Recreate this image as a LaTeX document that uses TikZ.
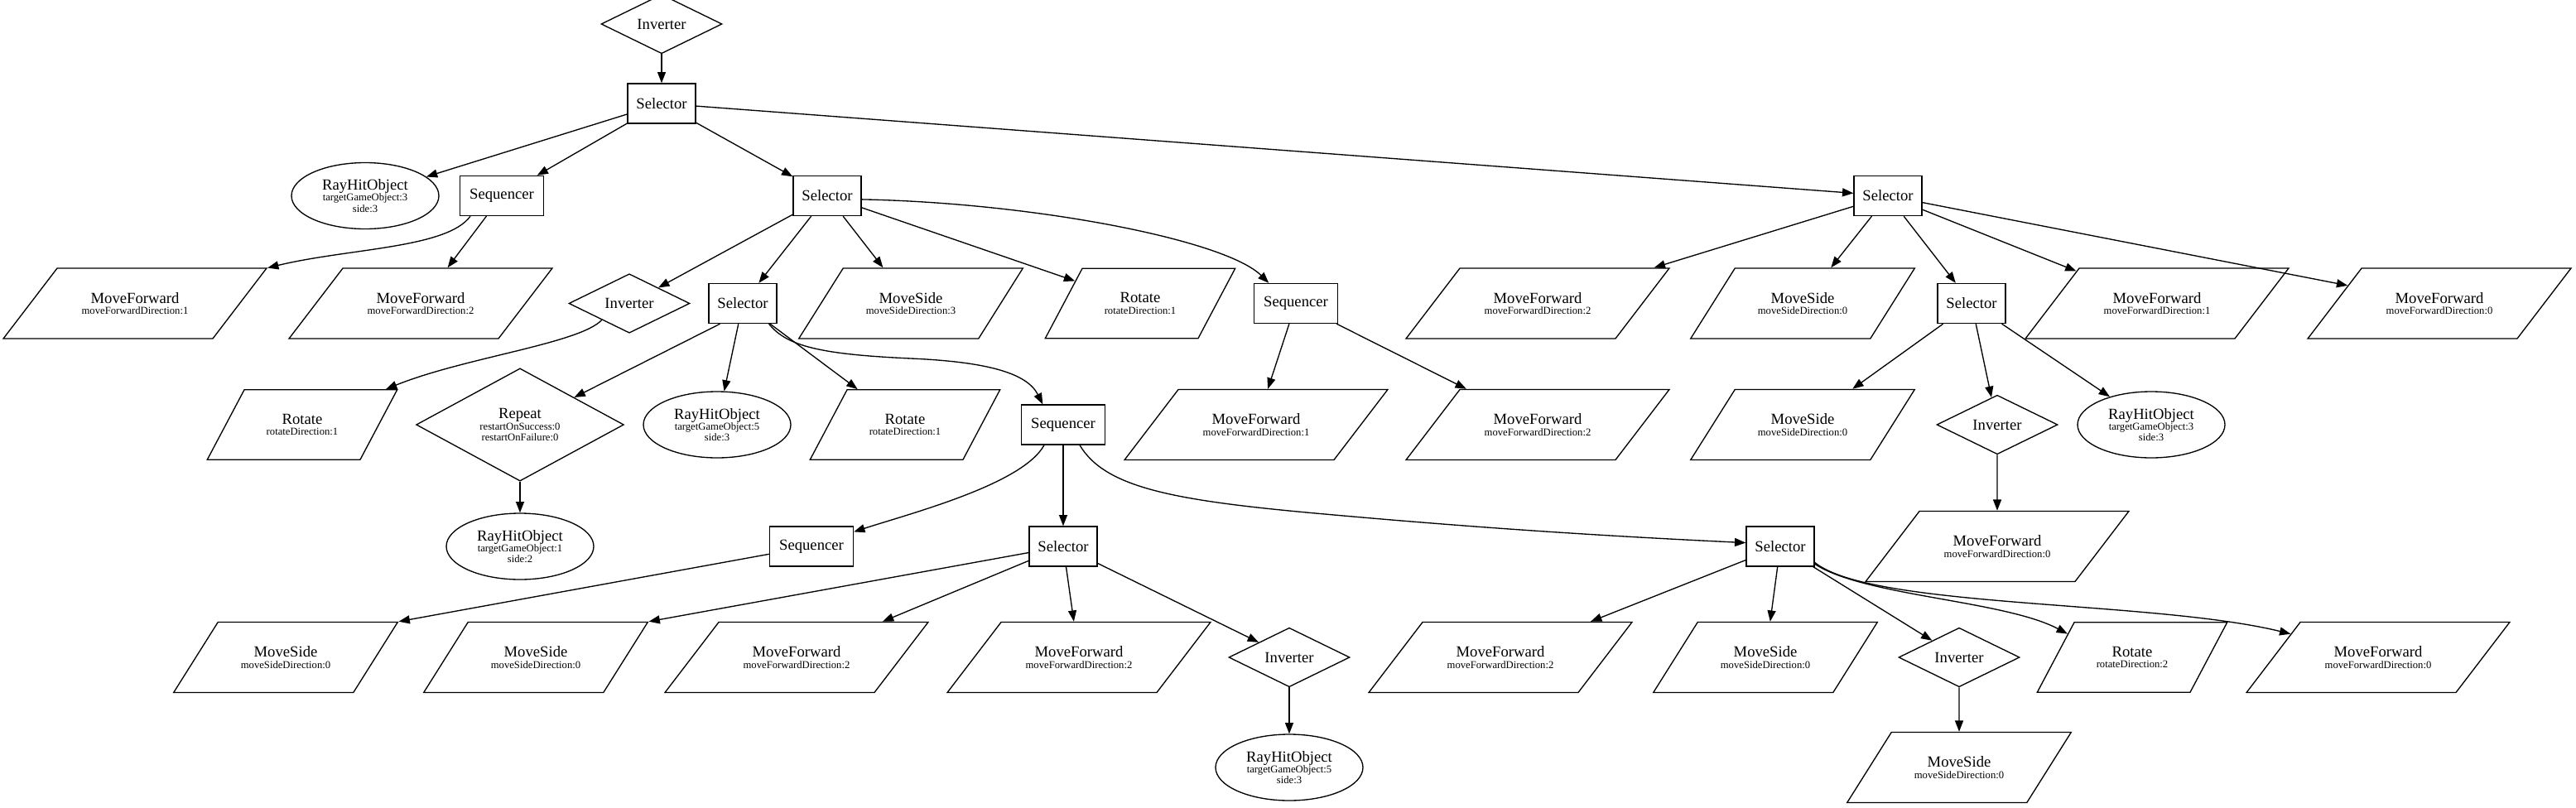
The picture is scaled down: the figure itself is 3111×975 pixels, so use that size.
\documentclass[tikz,border=0pt]{standalone}
\usepackage{fontspec}
\setmainfont{Liberation Serif}
\usetikzlibrary{shapes.geometric,arrows.meta}
\newcommand\gvbig{\fontsize{14}{14}\selectfont}
\newcommand\gvsmall{\fontsize{9.5}{10}\selectfont}
\newcommand\gvlbl[2]{{\gvbig #1}\\#2}
\lineskiplimit=-5pt
\tikzset{
  base/.style={draw, line width=1pt, inner sep=0pt, align=center, font=\gvsmall},
  selbox/.style={base, rectangle, minimum width=61.5pt, minimum height=36pt},
  seqbox/.style={base, rectangle, minimum width=75.75pt, minimum height=36pt},
  invd/.style={base, diamond, minimum width=109.5pt, minimum height=36pt},
  repd/.style={base, diamond, minimum width=188pt, minimum height=83pt},
  rayell/.style={base, ellipse, minimum width=133.5pt, minimum height=60pt},
  para/.style={base, trapezium, trapezium stretches body, inner xsep=0pt, inner ysep=22pt},
  pmf/.style={para, trapezium left angle=52.6, trapezium right angle=127.4, minimum width=238.5pt},
  pms/.style={para, trapezium left angle=57.8, trapezium right angle=122.2, minimum width=203pt},
  prot/.style={para, trapezium left angle=62.1, trapezium right angle=117.9, minimum width=172pt},
  conn/.style={line width=1pt, -{Triangle[length=10pt,width=7.5pt]}},
}
\begin{document}
\begin{tikzpicture}[x=0.75pt,y=0.75pt]
\path[fill=white] (0,0) rectangle (3111,-975);
\useasboundingbox (0,0) rectangle (3111,-975);
% rank 0-2
\node[invd] (inv0) at (799,-29) {\gvbig Inverter};
\node[selbox] (sel1) at (799,-125) {\gvbig Selector};
\node[rayell] (ray2) at (441,-236.5) {\gvlbl{RayHitObject}{targetGameObject:3\\side:3}};
\node[seqbox] (seq2) at (606,-236.5) {\gvbig Sequencer};
\node[selbox] (sel2a) at (999,-236.5) {\gvbig Selector};
\node[selbox] (sel2b) at (2280,-236.5) {\gvbig Selector};
% rank 3
\node[pmf] (mf3a) at (163,-366.5) {\gvlbl{MoveForward}{moveForwardDirection:1}};
\node[pmf] (mf3b) at (508,-366.5) {\gvlbl{MoveForward}{moveForwardDirection:2}};
\node[invd] (inv3) at (760,-366.5) {\gvbig Inverter};
\node[selbox] (sel3) at (897,-366.5) {\gvbig Selector};
\node[pms] (ms3) at (1100,-366.5) {\gvlbl{MoveSide}{moveSideDirection:3}};
\node[prot] (rot3) at (1377,-366.5) {\gvlbl{Rotate}{rotateDirection:1}};
\node[seqbox] (seq3) at (1565,-366.5) {\gvbig Sequencer};
\node[pmf] (mf3c) at (1857,-366.5) {\gvlbl{MoveForward}{moveForwardDirection:2}};
\node[pms] (ms3b) at (2177,-366.5) {\gvlbl{MoveSide}{moveSideDirection:0}};
\node[selbox] (sel3b) at (2381,-366.5) {\gvbig Selector};
\node[pmf] (mf3d) at (2605,-366.5) {\gvlbl{MoveForward}{moveForwardDirection:1}};
\node[pmf] (mf3e) at (2946,-366.5) {\gvlbl{MoveForward}{moveForwardDirection:0}};
% rank 4
\node[prot] (rot4) at (365,-513) {\gvlbl{Rotate}{rotateDirection:1}};
\node[repd] (rep4) at (628,-513) {\gvlbl{Repeat}{restartOnSuccess:0\\restartOnFailure:0}};
\node[rayell] (ray4) at (866,-513) {\gvlbl{RayHitObject}{targetGameObject:5\\side:3}};
\node[prot] (rot4b) at (1093,-513) {\gvlbl{Rotate}{rotateDirection:1}};
\node[seqbox] (seq4) at (1284,-513) {\gvbig Sequencer};
\node[pmf] (mf4a) at (1517,-513) {\gvlbl{MoveForward}{moveForwardDirection:1}};
\node[pmf] (mf4b) at (1857,-513) {\gvlbl{MoveForward}{moveForwardDirection:2}};
\node[pms] (ms4) at (2177,-513) {\gvlbl{MoveSide}{moveSideDirection:0}};
\node[invd] (inv4) at (2412,-513) {\gvbig Inverter};
\node[rayell] (ray4b) at (2598,-513) {\gvlbl{RayHitObject}{targetGameObject:3\\side:3}};
% rank 5
\node[rayell] (ray5) at (628,-660) {\gvlbl{RayHitObject}{targetGameObject:1\\side:2}};
\node[seqbox] (seq5) at (980,-660) {\gvbig Sequencer};
\node[selbox] (sel5) at (1284,-660) {\gvbig Selector};
\node[selbox] (sel5b) at (2150,-660) {\gvbig Selector};
\node[pmf] (mf5) at (2412,-660) {\gvlbl{MoveForward}{moveForwardDirection:0}};
% rank 6
\node[pms] (ms6a) at (345,-794) {\gvlbl{MoveSide}{moveSideDirection:0}};
\node[pms] (ms6b) at (647,-794) {\gvlbl{MoveSide}{moveSideDirection:0}};
\node[pmf] (mf6a) at (962,-794) {\gvlbl{MoveForward}{moveForwardDirection:2}};
\node[pmf] (mf6b) at (1303,-794) {\gvlbl{MoveForward}{moveForwardDirection:2}};
\node[invd] (inv6) at (1557,-794) {\gvbig Inverter};
\node[pmf] (mf6c) at (1812,-794) {\gvlbl{MoveForward}{moveForwardDirection:2}};
\node[pms] (ms6c) at (2132,-794) {\gvlbl{MoveSide}{moveSideDirection:0}};
\node[invd] (inv6b) at (2366,-794) {\gvbig Inverter};
\node[prot] (rot6) at (2575,-794) {\gvlbl{Rotate}{rotateDirection:2}};
\node[pmf] (mf6d) at (2872,-794) {\gvlbl{MoveForward}{moveForwardDirection:0}};
% rank 7
\node[rayell] (ray7) at (1557,-927) {\gvlbl{RayHitObject}{targetGameObject:5\\side:3}};
\node[pms] (ms7) at (2366,-927) {\gvlbl{MoveSide}{moveSideDirection:0}};
% straight edges
\draw[conn] (inv0) -- (sel1);
\draw[conn] (sel1) -- (ray2);
\draw[conn] (sel1) -- (seq2);
\draw[conn] (sel1) -- (sel2a);
\draw[conn] (sel1) -- (sel2b);
\draw[conn] (seq2) -- (mf3b);
\draw[conn] (sel2a) -- (inv3);
\draw[conn] (sel2a) -- (sel3);
\draw[conn] (sel2a) -- (ms3);
\draw[conn] (sel2a) -- (rot3);
\draw[conn] (seq3) -- (mf4a);
\draw[conn] (seq3) -- (mf4b);
\draw[conn] (sel3.-138) -- (rep4);
\draw[conn] (sel3) -- (ray4);
\draw[conn] (sel3) -- (rot4b);
\draw[conn] (rep4) -- (ray5);
\draw[conn] (seq4) -- (sel5);
\draw[conn] (seq5) -- (ms6a.top right corner);
\draw[conn] (sel5) -- (ms6b.top right corner);
\draw[conn] (sel5) -- (mf6a);
\draw[conn] (sel5) -- (mf6b);
\draw[conn] (sel5) -- (inv6);
\draw[conn] (inv6) -- (ray7);
\draw[conn] (sel5b) -- (mf6c);
\draw[conn] (sel5b) -- (ms6c);
\draw[conn] (sel5b) -- (inv6b);
\draw[conn] (inv6b) -- (ms7);
\draw[conn] (sel2b) -- (mf3c);
\draw[conn] (sel2b) -- (ms3b);
\draw[conn] (sel2b) -- (sel3b);
\draw[conn] (sel2b) -- (mf3d);
\draw[conn] (sel2b) -- (mf3e);
\draw[conn] (sel3b) -- (ms4);
\draw[conn] (sel3b) -- (inv4);
\draw[conn] (sel3b) -- (ray4b);
\draw[conn] (inv4) -- (mf5);
% curved edges
\draw[conn] (seq2.-147) .. controls (540,-300) and (420,-300) .. (mf3a.15);
\draw[conn] (sel2a.-6) .. controls (1250,-245) and (1480,-290) .. (seq3.143);
\draw[conn] (inv3.-149) .. controls (700,-415) and (560,-432) .. (rot4.23);
\draw[conn] (sel3.-38) .. controls (950,-418) and (990,-428) .. (1100,-433)
  .. controls (1190,-437) and (1240,-450) .. (seq4.135);
\draw[conn] (seq4.-133) .. controls (1235,-585) and (1100,-620) .. (seq5.19);
\draw[conn] (seq4.-51) .. controls (1335,-590) and (1420,-605) .. (1600,-621)
  .. controls (1800,-639) and (1950,-648) .. (sel5b.174);
\draw[conn] (sel5b.-27) .. controls (2250,-720) and (2420,-725) .. (rot6.160);
\draw[conn] (sel5b.-25) .. controls (2260,-735) and (2600,-725) .. (mf6d.165);
\end{tikzpicture}
\end{document}
